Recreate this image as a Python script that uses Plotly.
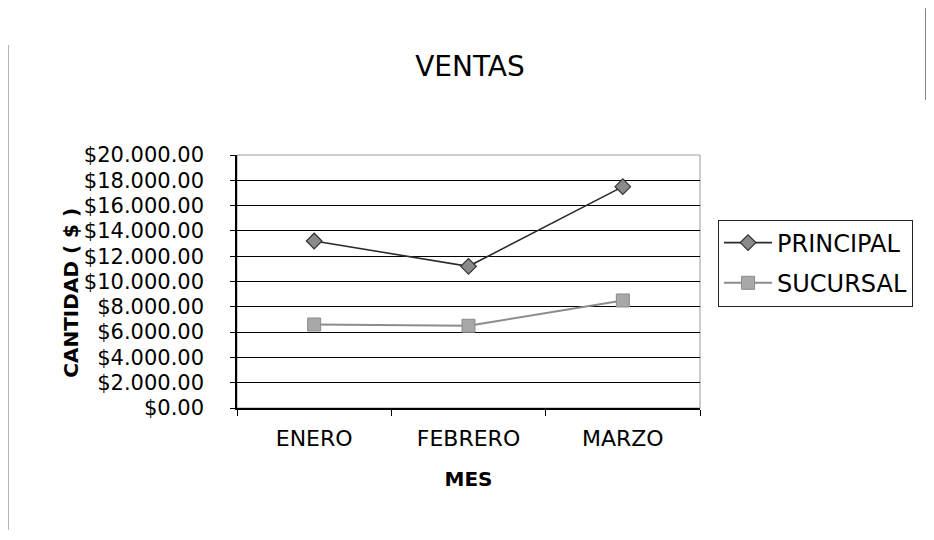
import plotly.graph_objects as go

# Datos
meses = ['ENERO', 'FEBRERO', 'MARZO']
principal = [13200, 11200, 17500]
sucursal = [6600, 6500, 8500]

y_ticks = [0, 2000, 4000, 6000, 8000, 10000, 12000, 14000, 16000, 18000, 20000]
y_labels = ['$0.00', '$2.000.00', '$4.000.00', '$6.000.00', '$8.000.00',
            '$10.000.00', '$12.000.00', '$14.000.00', '$16.000.00',
            '$18.000.00', '$20.000.00']

FONT = 'DejaVu Sans'

fig = go.Figure()

fig.add_trace(go.Scatter(x=meses, y=principal, mode='lines+markers', name='PRINCIPAL',
                         legendgroup='p',
                         line=dict(color='#2a2a2a', width=1.6),
                         marker=dict(symbol='diamond', size=12, color='#8a8a8a',
                                     line=dict(color='#333333', width=1.2))))

fig.add_trace(go.Scatter(x=meses, y=sucursal, mode='lines+markers', name='SUCURSAL',
                         legendgroup='s',
                         line=dict(color='#8c8c8c', width=2),
                         marker=dict(symbol='square', size=13, color='#a8a8a8',
                                     line=dict(color='#8a8a8a', width=1))))

# borde del area de trazado (gris claro arriba y a la derecha)
fig.add_shape(type='rect', xref='paper', yref='paper', x0=0, x1=1, y0=0, y1=1,
              line=dict(color='#9a9a9a', width=1), layer='below')

# restos del marco del grafico escaneado
fig.add_shape(type='line', xref='paper', yref='paper', x0=-0.495, x1=-0.495,
              y0=1.435, y1=-0.482, line=dict(color='#444444', width=1.2))
fig.add_shape(type='line', xref='paper', yref='paper', x0=1.488, x1=1.488,
              y0=1.58, y1=1.217, line=dict(color='#444444', width=1.2))

# titulo del eje Y como anotacion para poder acercarlo a las etiquetas
fig.add_annotation(text='<b>CANTIDAD ( $ )</b>', xref='paper', yref='paper',
                   x=-0.359, y=0.455, textangle=-90, showarrow=False,
                   xanchor='center', yanchor='middle',
                   font=dict(family=FONT, size=20, color='black'))

fig.update_layout(
    width=934, height=540,
    margin=dict(l=229, r=242, t=147, b=140),
    paper_bgcolor='white', plot_bgcolor='white',
    font=dict(family=FONT, color='black', size=20),
    title=dict(text='VENTAS', x=0.4946, xanchor='center', y=0.892, yanchor='middle',
               font=dict(family=FONT, size=28, color='black')),
    legend=dict(x=1.039, y=0.745, xanchor='left', yanchor='top',
                bordercolor='#222222', borderwidth=1, bgcolor='white',
                font=dict(family=FONT, size=24, color='black'),
                itemwidth=48,
                tracegroupgap=6),
    showlegend=True,
)

fig.update_xaxes(
    type='category', range=[-0.5, 2.5], showgrid=False,
    showline=True, linecolor='black', linewidth=1.5,
    ticks='outside', tickson='boundaries', ticklen=6, tickcolor='black',
    tickfont=dict(family=FONT, size=22, color='black'),
    ticklabelstandoff=10,
    title=dict(text='<b>MES</b>', font=dict(family=FONT, size=20, color='black'), standoff=22),
)

fig.update_yaxes(
    range=[0, 20000], tickvals=y_ticks, ticktext=y_labels,
    showgrid=True, gridcolor='black', gridwidth=1,
    showline=True, linecolor='black', linewidth=1.5, zeroline=False,
    ticks='outside', ticklen=5, tickcolor='black',
    tickfont=dict(family=FONT, size=21, color='black'),
    ticklabelstandoff=22,
)

fig.write_html('out.html')
